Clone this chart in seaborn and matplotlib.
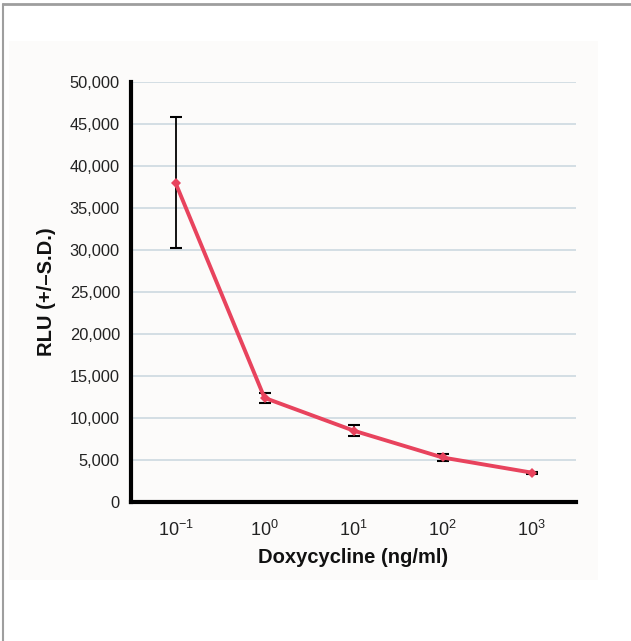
import matplotlib
matplotlib.use("Agg")
import matplotlib.pyplot as plt
import seaborn as sns
import numpy as np
import pandas as pd
from matplotlib.patches import Rectangle
from matplotlib.lines import Line2D
from matplotlib.ticker import FixedLocator, FuncFormatter

# ---- data ----
concentration = [0.1, 1, 10, 100, 1000]          # ng/ml
rlu_mean = [38000, 12400, 8500, 5300, 3500]
rlu_sd = [7800, 600, 700, 450, 120]
tick_labels = ["10$^{\u22121}$", "10$^{0}$", "10$^{1}$", "10$^{2}$", "10$^{3}$"]
y_ticks = [0, 5000, 10000, 15000, 20000, 25000, 30000, 35000, 40000, 45000, 50000]

df = pd.DataFrame({"conc": concentration, "rlu": rlu_mean, "sd": rlu_sd})

sns.set_style("white")
plt.rcParams["font.family"] = ["Liberation Sans", "DejaVu Sans"]
plt.rcParams["mathtext.default"] = "regular"

W, H = 631, 641
fig = plt.figure(figsize=(W / 100, H / 100), dpi=100)
fig.patch.set_facecolor("white")

# light panel behind the chart
fig.patches.append(Rectangle((9 / W, 1 - 580 / H), (598 - 9) / W, (580 - 41) / H,
                             transform=fig.transFigure, facecolor="#FCFBFA",
                             edgecolor="none", zorder=-5))
# outer frame lines (top and left)
fig.lines.append(Line2D([3 / W, 1], [1 - 4 / H, 1 - 4 / H], transform=fig.transFigure,
                        color="#9E9E9E", lw=2, zorder=-5))
fig.lines.append(Line2D([3 / W, 3 / W], [0, 1 - 4 / H], transform=fig.transFigure,
                        color="#9E9E9E", lw=1.5, zorder=-5))

ax = fig.add_axes([131 / W, 1 - 502 / H, (576 - 131) / W, (502 - 82) / H])
ax.set_zorder(2)
ax.set_facecolor("none")

ax.set_xscale("log")
ax.set_xlim(10 ** -1.5, 10 ** 3.5)
ax.set_ylim(0, 50000)

# grid lines
for yv in y_ticks[1:]:
    ax.plot([10 ** -1.5, 10 ** 3.5], [yv, yv], color="#CCD9E0", lw=1.2, zorder=1,
            solid_capstyle="butt")

ax.errorbar(df["conc"], df["rlu"], yerr=df["sd"], fmt="none", ecolor="black",
            elinewidth=1.3, capsize=4, capthick=1.5, zorder=2)
sns.lineplot(data=df, x="conc", y="rlu", ax=ax, color="#E8435D", lw=2.8,
             marker="D", markersize=5, markeredgewidth=0, zorder=3)

# x ticks: labels at decades, tick marks between categories
ax.xaxis.set_major_locator(FixedLocator(concentration))
ax.set_xticklabels(tick_labels)
ax.xaxis.set_minor_locator(FixedLocator([10 ** (k + 0.5) for k in range(-2, 4)]))
ax.xaxis.set_minor_formatter(FuncFormatter(lambda v, p: ""))
ax.tick_params(axis="x", which="major", length=0, pad=13, labelsize=13, colors="#222222")
ax.tick_params(axis="x", which="minor", length=6, width=2.5, color="black", direction="out")

ax.set_yticks(y_ticks)
ax.set_yticklabels([f"{v:,}" for v in y_ticks])
ax.tick_params(axis="y", length=6, width=2.5, color="black", direction="out",
               labelsize=11.8, labelcolor="#222222", pad=2)

for s in ["top", "right"]:
    ax.spines[s].set_visible(False)
for s in ["left", "bottom"]:
    ax.spines[s].set_linewidth(3)
    ax.spines[s].set_color("black")

ax.set_xlabel("Doxycycline (ng/ml)", fontsize=14.5, fontweight="bold", labelpad=6,
              color="#111111")
ax.set_ylabel("RLU (+/\u2013S.D.)", fontsize=14.5, fontweight="bold", labelpad=10,
              color="#111111")

fig.savefig("out.png", dpi=100)
